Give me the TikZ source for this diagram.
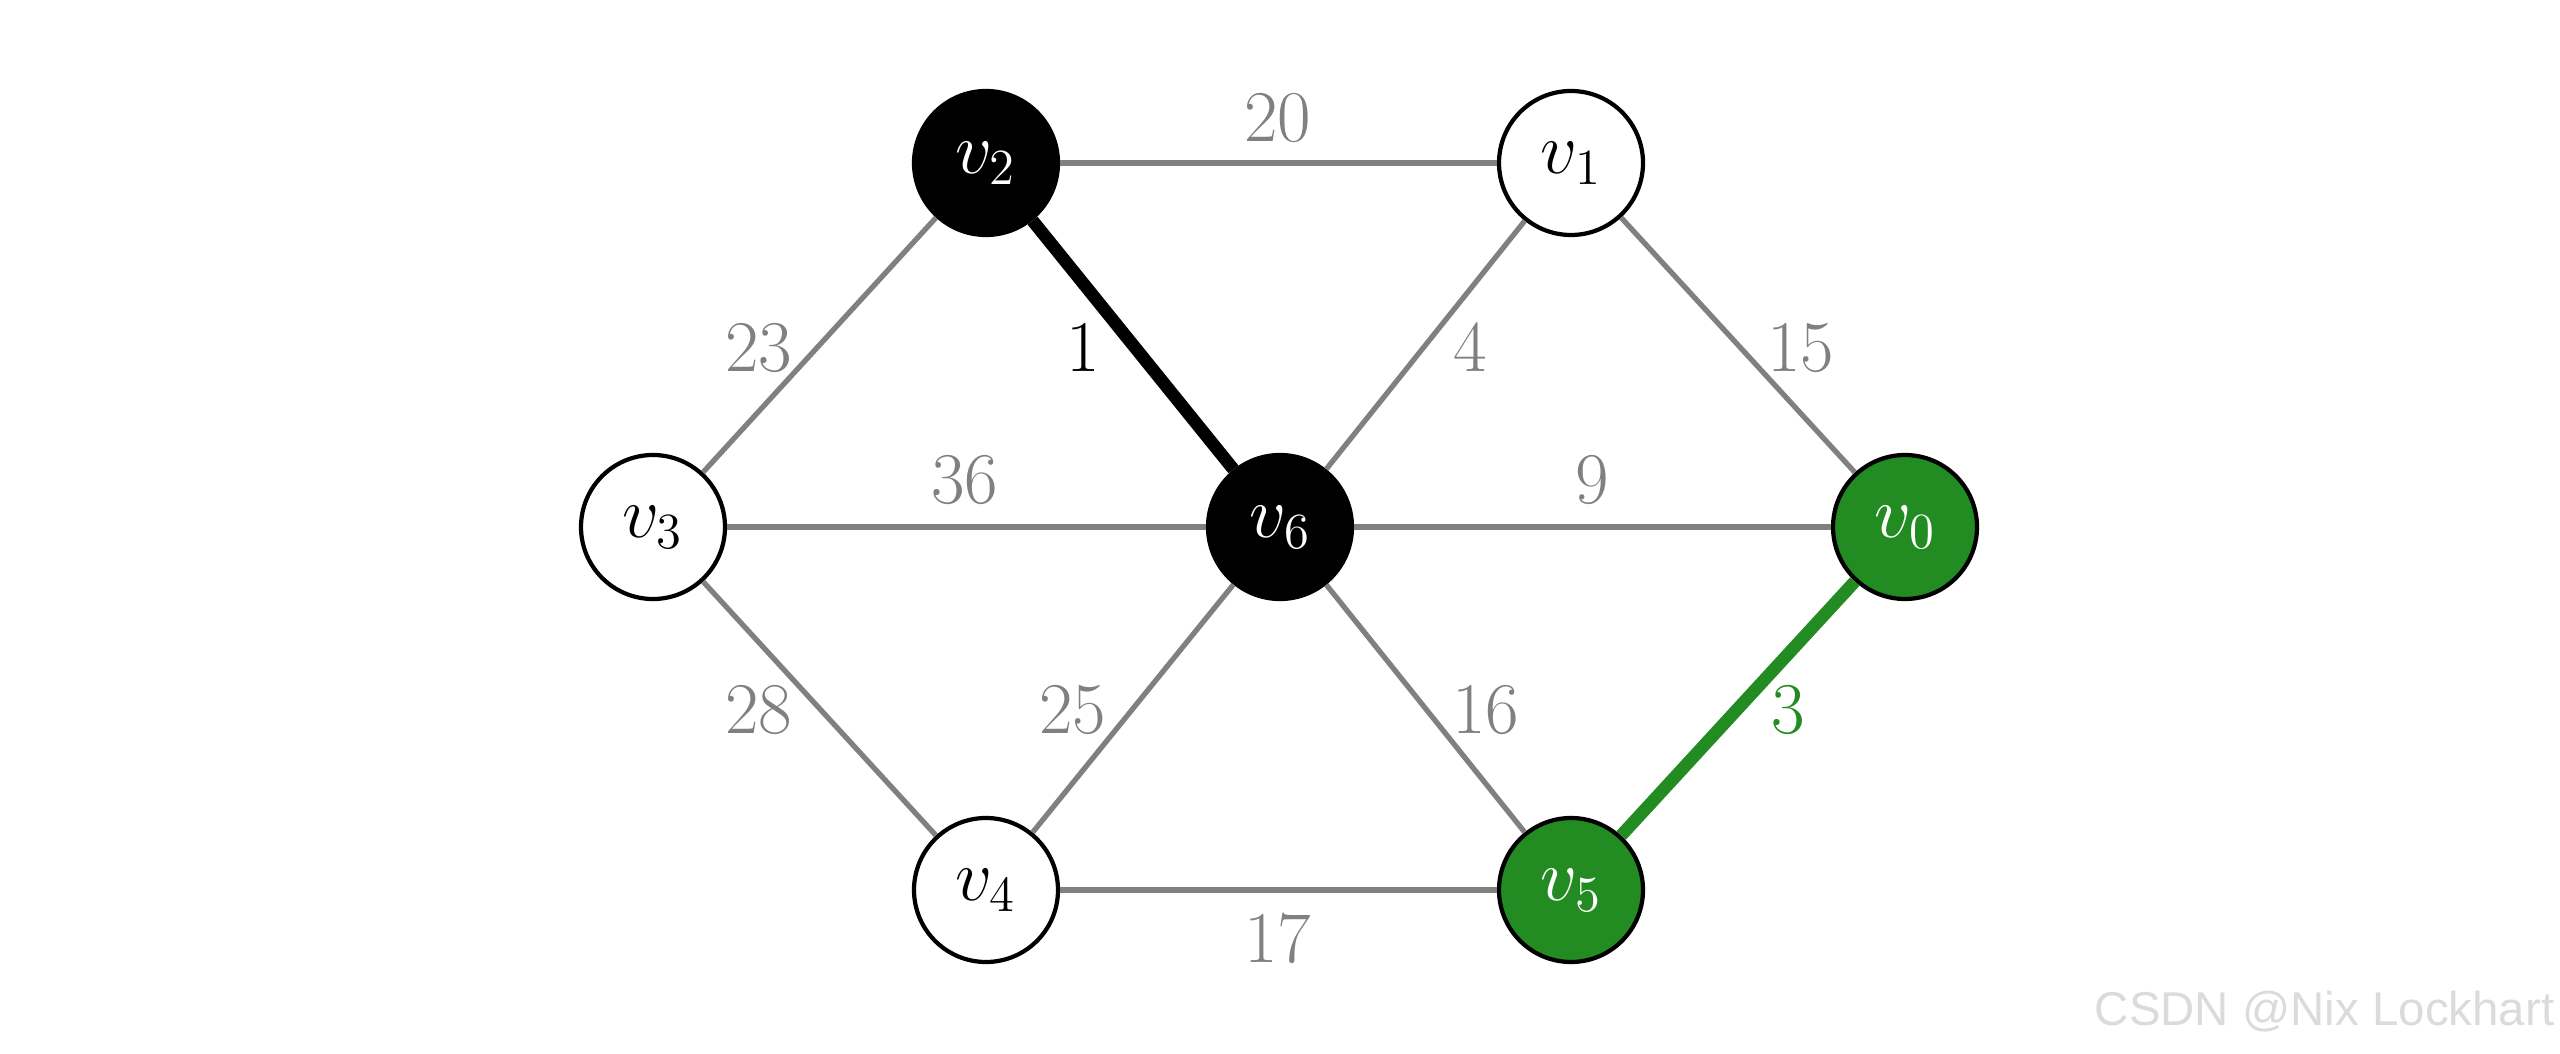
\documentclass[tikz,border=0pt]{standalone}
\usepackage{amsmath}
\usepackage{amssymb}
\usepackage{fontspec}
\newfontfamily\markfont{Liberation Sans}
\usepackage{tikz}

\definecolor{treegreen}{RGB}{34,139,34}
\definecolor{edgegray}{RGB}{128,128,128}

\tikzset{
  vtx/.style={circle,draw=black,line width=1.2pt,minimum size=1.44cm,inner sep=0pt,font=\fontsize{20.7}{24}\selectfont},
  vwhite/.style={vtx,fill=white},
  vblack/.style={vtx,fill=black,text=white},
  vgreen/.style={vtx,fill=treegreen,text=white},
  wt/.style={text=edgegray,inner sep=1pt,font=\fontsize{20.7}{24}\selectfont},
  plain/.style={draw=edgegray,line width=1.5pt},
  chosen/.style={line width=3.6pt}
}

\begin{document}
\begin{tikzpicture}
\useasboundingbox (0,0) rectangle (25.6,10.53);

\node[vwhite] (v1) at (15.71,8.90) {$v_1$};
\node[vblack] (v2) at (9.86,8.90) {$v_2$};
\node[vwhite] (v3) at (6.53,5.26) {$v_3$};
\node[vblack] (v6) at (12.80,5.26) {$v_6$};
\node[vgreen] (v0) at (19.05,5.26) {$v_0$};
\node[vwhite] (v4) at (9.86,1.63) {$v_4$};
\node[vgreen] (v5) at (15.71,1.63) {$v_5$};

\draw[plain] (v2)--(v1);
\draw[plain] (v1)--(v0);
\draw[plain] (v3)--(v2);
\draw[plain] (v6)--(v1);
\draw[plain] (v3)--(v6)--(v0);
\draw[plain] (v3)--(v4);
\draw[plain] (v4)--(v6)--(v5);
\draw[plain] (v4)--(v5);
\draw[chosen,black] (v2)--(v6);
\draw[chosen,treegreen] (v5)--(v0);

% weights
\node[wt] (w21) at (12.78,9.35) {$20$};
\node[wt,text=black] (w26) at (10.83,7.05) {$1$};
\node[wt] (w16) at (14.70,7.05) {$4$};
\node[wt] (w10) at (18.01,7.05) {$15$};
\node[wt] (w32) at (7.59,7.05) {$23$};
\node[wt] (w36) at (9.65,5.73) {$36$};
\node[wt] (w60) at (15.92,5.73) {$9$};
\node[wt] (w34) at (7.59,3.43) {$28$};
\node[wt] (w46) at (10.73,3.43) {$25$};
\node[wt] (w65) at (14.86,3.43) {$16$};
\node[wt,text=treegreen] (w50) at (17.88,3.43) {$3$};
\node[wt] (w45) at (12.78,1.14) {$17$};

\node[anchor=east,text=black!14,inner sep=0pt,font=\markfont\fontsize{13.5}{16}\selectfont] (mark) at (25.55,0.41) {CSDN @Nix Lockhart};
\end{tikzpicture}
\end{document}
